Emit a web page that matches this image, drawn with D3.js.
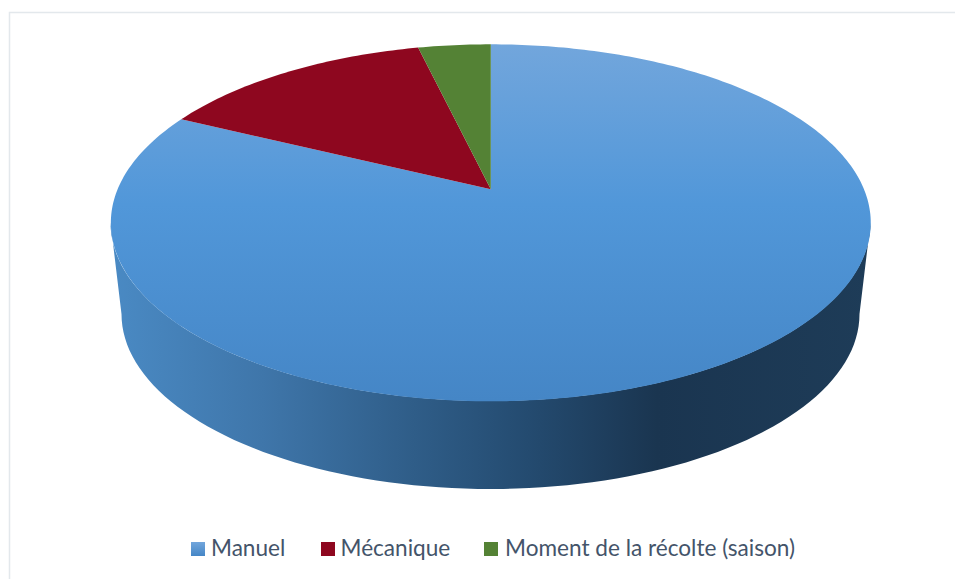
<!DOCTYPE html>
<html><head><meta charset="utf-8">
<script src="https://cdn.jsdelivr.net/npm/d3@7"></script>
<style>html,body{margin:0;padding:0;background:#fff}svg{display:block}</style>
</head><body><svg id="c" width="955" height="579"></svg>
<script>
const categories = ["Manuel", "Mécanique", "Moment de la récolte (saison)"];
const values = [82.25, 14.05, 3.7];
const colors = ["#5b9bd8", "#8e071f", "#548235"];

const svg = d3.select("#c");
const W = 955, H = 579;
const defs = svg.append("defs");

const topGrad = defs.append("linearGradient").attr("id", "topG").attr("gradientUnits", "userSpaceOnUse")
  .attr("x1", 0).attr("x2", 0).attr("y1", 44).attr("y2", 401);
[[0, "#72a6dc"], [0.45, "#5197d9"], [1, "#4586c6"]].forEach(s => topGrad.append("stop").attr("offset", s[0]).attr("stop-color", s[1]));

const sideGrad = defs.append("linearGradient").attr("id", "sideG").attr("gradientUnits", "userSpaceOnUse")
  .attr("x1", 110).attr("x2", 870).attr("y1", 0).attr("y2", 0);
[[0, "#4a8ac4"], [0.2, "#3f76aa"], [0.4, "#2f5d88"], [0.55, "#244b70"], [0.72, "#1a3550"], [1, "#1e3c58"]].forEach(s => sideGrad.append("stop").attr("offset", s[0]).attr("stop-color", s[1]));

const legGrad = defs.append("linearGradient").attr("id", "legG").attr("x1", 0).attr("x2", 0).attr("y1", 0).attr("y2", 1);
[[0, "#72a6dc"], [1, "#4586c6"]].forEach(s => legGrad.append("stop").attr("offset", s[0]).attr("stop-color", s[1]));

// frame
svg.append("path").attr("d", `M9.5 ${H} V12.5 H${W}`).attr("fill", "none").attr("stroke", "#e3e8ec").attr("stroke-width", 1.5);

// perspective projection of the pie's unit circle
const cx = 490.8, cy = 189.3, K = 373.2, A = 172.2, c = 0.1877;
const sx = d3.scaleLinear().domain([0, 1]).range([cx, cx + K]);
const sy = d3.scaleLinear().domain([0, 1]).range([cy, cy - A]);
const proj = (a, r = 1) => {
  const u = r * Math.sin(a), v = r * Math.cos(a), w = 1 + c * v;
  return [sx(u / w), sy(v / w)];
};
const line = d3.line();
const arcs = d3.pie().sort(null)(values);

// side wall: lower rim narrower through perspective
const lower = { cx: 490.5, cy: 314, rx: 369, ry: 175 };
const topE = { cx: 490.5, cy: 222.5, rx: 380, ry: 178.5 };
const front = d3.range(0, 181, 2).map(d => d * Math.PI / 180);
const pt = (e, t) => [e.cx + e.rx * Math.cos(t), e.cy + e.ry * Math.sin(t)];
const sidePts = front.map(t => pt(topE, t)).concat(front.slice().reverse().map(t => pt(lower, t)));
svg.append("path").attr("d", line(sidePts) + "Z").attr("fill", "url(#sideG)");

// slices
svg.selectAll("path.slice").data(arcs).join("path").attr("class", "slice")
  .attr("d", d => {
    const n = Math.max(8, Math.ceil((d.endAngle - d.startAngle) * 60));
    const pts = d3.range(n + 1).map(i => proj(d.startAngle + (d.endAngle - d.startAngle) * i / n));
    return line([[sx(0), sy(0)], ...pts]) + "Z";
  })
  .attr("fill", (d, i) => i === 0 ? "url(#topG)" : colors[i]);

// legend
const legX = [191, 321, 484], textX = [211, 340.5, 505];
const leg = svg.selectAll("g.leg").data(categories).join("g").attr("class", "leg");
leg.append("rect").attr("x", (d, i) => legX[i]).attr("y", 542).attr("width", 14).attr("height", 14)
  .attr("fill", (d, i) => i === 0 ? "url(#legG)" : colors[i]);
leg.append("text").attr("x", (d, i) => textX[i]).attr("y", 555.5)
  .attr("font-family", "Lato, 'Open Sans', sans-serif").attr("font-size", 22.6).attr("fill", "#44546a").text(d => d);
</script></body></html>
